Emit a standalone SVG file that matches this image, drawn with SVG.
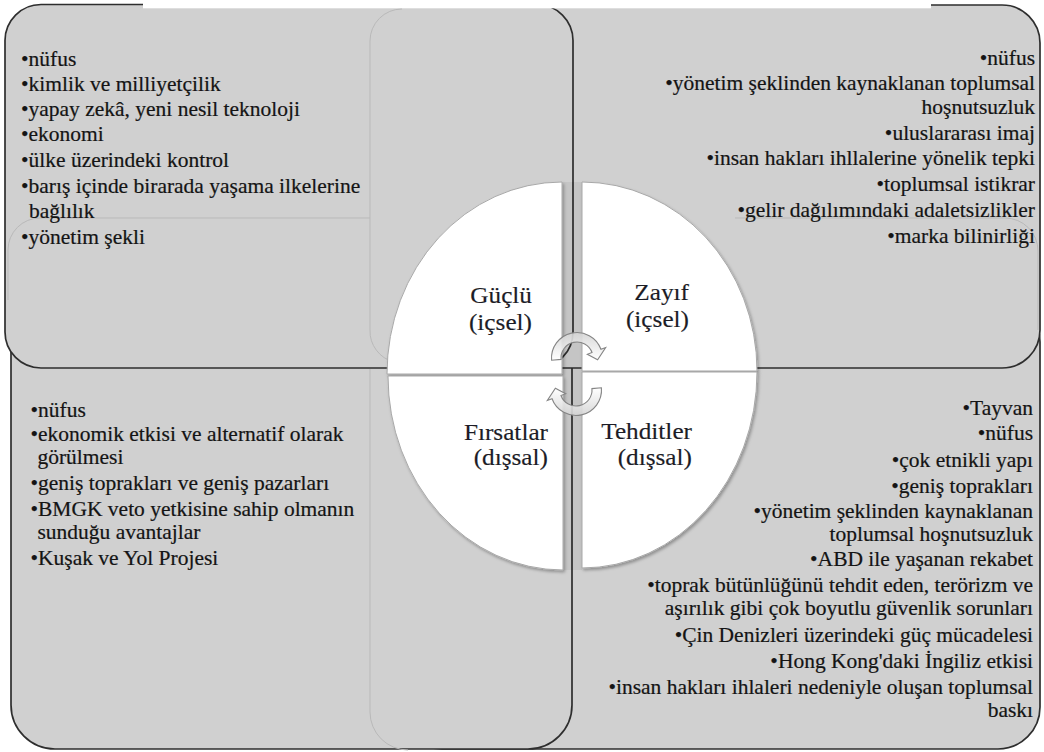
<svg xmlns="http://www.w3.org/2000/svg" width="1044" height="752" viewBox="0 0 1044 752">
  <style>
    .box { fill: #d0d0d0; stroke: #2e2e2e; stroke-width: 1.7; }
    .ghost { fill: none; stroke: #b9b9b9; stroke-width: 1; }
    .piece { fill: #ffffff; stroke: #a8a8a8; stroke-width: 1; filter: url(#shadow); }
    .item { font-family: "Liberation Serif", "Times New Roman", "DejaVu Serif", serif; font-size: 20px; fill: #141414; stroke: #141414; stroke-width: 0.2; }
    .lbl { font-family: "Liberation Serif", "Times New Roman", "DejaVu Serif", serif; font-size: 23.5px; fill: #1c1c26; stroke: #1c1c26; stroke-width: 0.15; text-anchor: end; }
    .end { text-anchor: end; }
    .carrow { fill: url(#arrowGrad); stroke: #858585; stroke-width: 1.1; fill-opacity: 0.9; }
  </style>
  <defs>
    <filter id="shadow" x="-10%" y="-10%" width="130%" height="130%">
      <feDropShadow dx="1.5" dy="2" stdDeviation="1.6" flood-color="#000" flood-opacity="0.3"/>
    </filter>
    <linearGradient id="arrowGrad" x1="0" y1="0" x2="0" y2="1">
      <stop offset="0" stop-color="#ffffff"/>
      <stop offset="1" stop-color="#d4d4d4"/>
    </linearGradient>
    <path id="cyc" d="M 25.40 -2.22 A 25.5 25.5 0 0 1 -23.96 8.72 L -28.66 10.43 L -20.62 -1.80 L -10.34 3.76 L -15.04 5.47 A 16 16 0 0 0 15.94 -1.39 Z"/>
  </defs>

  <rect x="0" y="0" width="1044" height="752" fill="#ffffff"/>

  <!-- quadrant boxes (back to front) -->
  <g id="box-threats"><rect class="box" x="400" y="300" width="640" height="449" rx="42"/></g>
  <g id="box-opportunities"><rect class="box" x="11" y="300" width="561" height="449" rx="44"/></g>
  <g id="box-weaknesses"><rect class="box" x="470" y="5" width="570" height="363" rx="38"/></g>
  <g id="box-strengths"><rect class="box" x="5" y="4.5" width="568" height="363.5" rx="36"/></g>
  <rect x="143" y="0" width="788" height="8.3" fill="#ffffff"/>

  <!-- faint background shapes -->
  <g id="ghosts">
    <path class="ghost" d="M 402 9 A 32 32 0 0 0 370 41 L 370 330 A 32 32 0 0 0 394 362"/>
    <path class="ghost" d="M 370 218 L 40 218 A 32 32 0 0 0 8 250 L 8 300"/>
    <path class="ghost" d="M 735 218 L 1005 218 A 33 33 0 0 1 1038 251 L 1038 330"/>
    <path class="ghost" d="M 370 369 L 370 712 A 38 38 0 0 0 408 750"/>
  </g>
  <rect x="562" y="182" width="20" height="388" fill="#000000" opacity="0.05"/>

  <!-- central pie pieces -->
  <g id="node-guclu">
    <path class="piece" d="M 562 374 L 562 182 A 175 192 0 0 0 387 374 Z"/>
    <g transform="translate(532 0) scale(1.075 1)">
      <text class="lbl" x="0" y="303">Güçlü</text>
      <text class="lbl" x="0" y="330">(içsel)</text>
    </g>
  </g>
  <g id="node-zayif">
    <path class="piece" d="M 582 371 L 582 182 A 175 189 0 0 1 757 371 Z"/>
    <g transform="translate(689 0) scale(1.075 1)">
      <text class="lbl" x="0" y="300">Zayıf</text>
      <text class="lbl" x="0" y="327">(içsel)</text>
    </g>
  </g>
  <g id="node-firsatlar">
    <path class="piece" d="M 563 376 L 388 376 A 175 194 0 0 0 563 570 Z"/>
    <g transform="translate(548 0) scale(1.075 1)">
      <text class="lbl" x="0" y="440">Fırsatlar</text>
      <text class="lbl" x="0" y="465">(dışsal)</text>
    </g>
  </g>
  <g id="node-tehditler">
    <path class="piece" d="M 582 372 L 757 372 A 175 196 0 0 1 582 568 Z"/>
    <g transform="translate(692 0) scale(1.075 1)">
      <text class="lbl" x="0" y="439">Tehditler</text>
      <text class="lbl" x="0" y="465">(dışsal)</text>
    </g>
  </g>

  <!-- cycle arrows -->
  <g id="connectors">
    <use href="#cyc" class="carrow" transform="translate(577 358) rotate(180)"/>
    <use href="#cyc" class="carrow" transform="translate(576 390)"/>
  </g>

  <!-- lists -->
  <g id="list-strengths" class="item" transform="translate(21 0) scale(1.075 1)">
    <text x="0" y="66">•nüfus</text>
    <text x="0" y="91">•kimlik ve milliyetçilik</text>
    <text x="0" y="116">•yapay zekâ, yeni nesil teknoloji</text>
    <text x="0" y="141">•ekonomi</text>
    <text x="0" y="167">•ülke üzerindeki kontrol</text>
    <text x="0" y="193">•barış içinde birarada yaşama ilkelerine</text>
    <text x="7.4" y="218">bağlılık</text>
    <text x="0" y="244">•yönetim şekli</text>
  </g>
  <g id="list-weaknesses" class="item end" transform="translate(1035 0) scale(1.075 1)">
    <text x="0" y="65">•nüfus</text>
    <text x="0" y="90">•yönetim şeklinden kaynaklanan toplumsal</text>
    <text x="0" y="114">hoşnutsuzluk</text>
    <text x="0" y="140">•uluslararası imaj</text>
    <text x="0" y="165">•insan hakları ihllalerine yönelik tepki</text>
    <text x="0" y="191">•toplumsal istikrar</text>
    <text x="0" y="217">•gelir dağılımındaki adaletsizlikler</text>
    <text x="0" y="243">•marka bilinirliği</text>
  </g>
  <g id="list-opportunities" class="item" transform="translate(30.5 0) scale(1.075 1)">
    <text x="0" y="417">•nüfus</text>
    <text x="0" y="441">•ekonomik etkisi ve alternatif olarak</text>
    <text x="6.5" y="464">görülmesi</text>
    <text x="0" y="490">•geniş toprakları ve geniş pazarları</text>
    <text x="0" y="516">•BMGK veto yetkisine sahip olmanın</text>
    <text x="6.5" y="539">sunduğu avantajlar</text>
    <text x="0" y="565">•Kuşak ve Yol Projesi</text>
  </g>
  <g id="list-threats" class="item end" transform="translate(1033 0) scale(1.075 1)">
    <text x="0" y="415">•Tayvan</text>
    <text x="0" y="440">•nüfus</text>
    <text x="0" y="467">•çok etnikli yapı</text>
    <text x="0" y="493">•geniş toprakları</text>
    <text x="0" y="518">•yönetim şeklinden kaynaklanan</text>
    <text x="0" y="541">toplumsal hoşnutsuzluk</text>
    <text x="0" y="566">•ABD ile yaşanan rekabet</text>
    <text x="0" y="592">•toprak bütünlüğünü tehdit eden, terörizm ve</text>
    <text x="0" y="615">aşırılık gibi çok boyutlu güvenlik sorunları</text>
    <text x="0" y="642">•Çin Denizleri üzerindeki güç mücadelesi</text>
    <text x="0" y="668">•Hong Kong'daki İngiliz etkisi</text>
    <text x="0" y="694">•insan hakları ihlaleri nedeniyle oluşan toplumsal</text>
    <text x="0" y="717">baskı</text>
  </g>
</svg>
